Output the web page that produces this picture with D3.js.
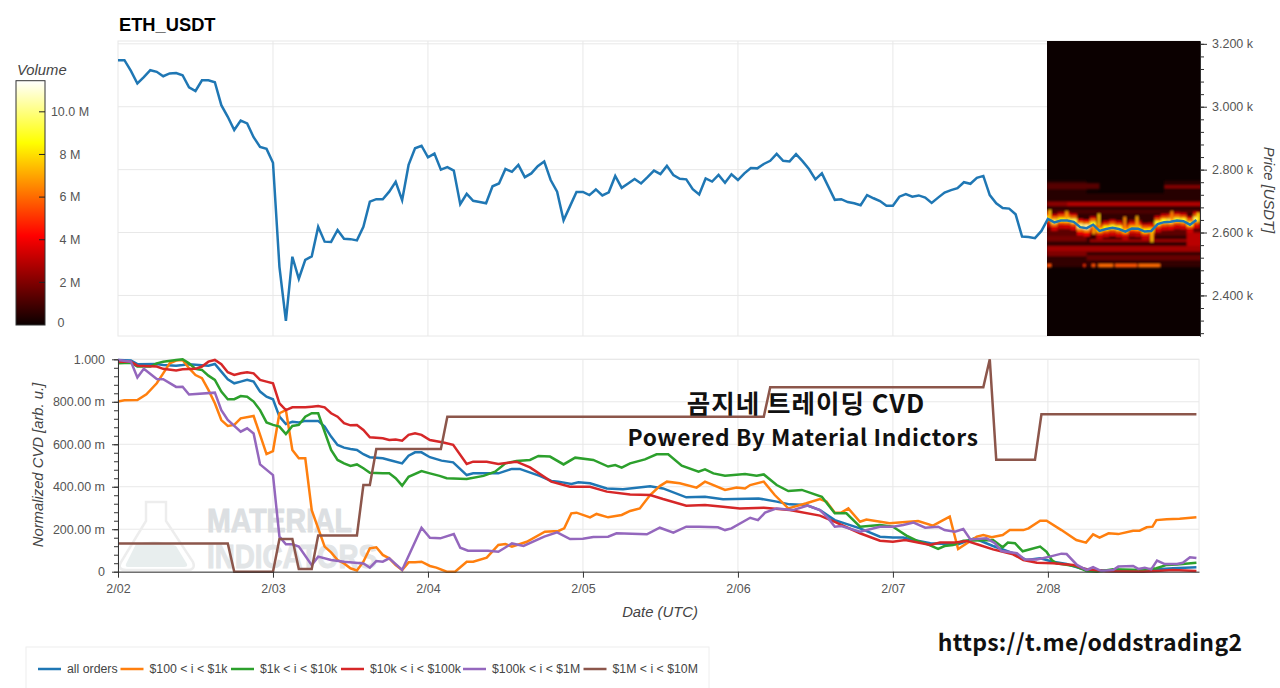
<!DOCTYPE html>
<html lang="en">

<head>
    <title>ETH_USDT CVD</title>
    <script src="https://d3js.org/d3.v7.min.js"></script>
    <style>
        html, body {
            margin: 0;
            background: #fff;
            overflow: hidden;
        }

        text {
            font-family: "Liberation Sans", Arial, sans-serif;
            fill: #555;
            font-size: 12.5px;
        }

        .axis-title {
            font-style: italic;
            font-size: 14.8px;
            fill: #444;
        }

        .overlay {
            font-family: "Noto Sans CJK KR", sans-serif;
            font-weight: 700;
            fill: #111;
        }

        .grid line {
            stroke: #e8e8e8;
        }
    </style>
</head>

<body>
<svg id="target" width="1280" height="688"></svg>
<script type="text/javascript">
    // one price per hour, starting 2/02 00:00 UTC
    const priceValues = [3148, 3148, 3114, 3074, 3094, 3116, 3111, 3097, 3106, 3107, 3100, 3062, 3050, 3084, 3084, 3078,
        3005, 2968, 2926, 2956, 2947, 2903, 2872, 2866, 2822, 2491, 2319, 2523, 2453, 2513, 2524, 2618,
        2571, 2570, 2608, 2580, 2579, 2575, 2618, 2698, 2706, 2706, 2730, 2761, 2703, 2815, 2868, 2876,
        2839, 2851, 2800, 2808, 2797, 2690, 2723, 2701, 2697, 2693, 2747, 2756, 2802, 2793, 2815, 2776,
        2788, 2811, 2826, 2767, 2730, 2639, 2684, 2729, 2729, 2719, 2737, 2718, 2728, 2780, 2742, 2756,
        2770, 2756, 2776, 2797, 2786, 2812, 2783, 2771, 2769, 2738, 2721, 2772, 2762, 2783, 2758, 2785,
        2767, 2788, 2805, 2804, 2818, 2828, 2850, 2828, 2826, 2849, 2827, 2802, 2769, 2788, 2746, 2704,
        2706, 2697, 2693, 2687, 2719, 2709, 2700, 2685, 2685, 2714, 2722, 2714, 2718, 2711, 2694, 2711,
        2727, 2735, 2741, 2760, 2755, 2774, 2780, 2719, 2693, 2678, 2676, 2658, 2587, 2586, 2582, 2605,
        2643, 2632, 2638, 2638, 2634, 2617, 2614, 2625, 2605, 2611, 2615, 2611, 2603, 2613, 2612, 2603,
        2605, 2627, 2633, 2634, 2638, 2636, 2625, 2640];

    // [hour, cvd in milli units]
    const allOrders = [[0, 997], [2, 994], [3, 977], [6, 978], [7, 973], [9, 970], [10, 973], [11, 977], [14, 970], [15, 978], [16, 942], [17, 906], [18, 887], [19, 895], [20, 903], [21, 895], [22, 848], [23, 824], [24, 812], [25, 730], [26, 695], [27, 706], [28, 703], [29, 710], [31, 710], [32, 683], [33, 636], [34, 597], [35, 584], [36, 578], [37, 573], [38, 553], [39, 539], [41, 534], [42, 526], [44, 510], [45, 546], [46, 562], [47, 562], [48.3, 539], [50.1, 523], [51.9, 515], [54, 455], [55, 463], [58.9, 463], [61, 484], [62.2, 484], [65.3, 451], [67.1, 427], [68.2, 424], [70.2, 413], [71.3, 421], [73.1, 416], [75.7, 392], [78.2, 388], [82.4, 402], [84.4, 392], [88, 350], [90.9, 353], [93.7, 341], [99.2, 345], [102, 330], [104, 317], [106.6, 314], [108.7, 290], [111, 243], [114.9, 204], [118, 165], [120, 161], [121.6, 161], [123.2, 149], [125.8, 134], [130, 128], [132.6, 157], [135.5, 121], [138.6, 87], [140.7, 55], [142.8, 63], [144.8, 47], [146.9, 36], [149, 16], [151, 8], [154, 3], [158.7, 3], [160.8, 11], [163.4, 16], [167, 21]];
    const band100 = [[0, 801], [1, 807], [3, 808], [4.4, 835], [6, 887], [7, 934], [8, 981], [9, 994], [10, 997], [11, 958], [12, 926], [13, 911], [14, 856], [15, 793], [16, 714], [17, 686], [18, 691], [19, 722], [21, 733], [22, 644], [23, 554], [24, 568], [25, 746], [26, 761], [27, 573], [28, 534], [29, 534], [30, 290], [31, 204], [32, 118], [33, 91], [34, 55], [35, 39], [36, 16], [37, 6], [38, 47], [39, 110], [40, 115], [41, 79], [42, 63], [43, 31], [44, 8], [45, 44], [46, 44], [47, 47], [48.3, 27], [49.3, 19], [50.9, 0], [52.2, 0], [54, 47], [55, 47], [57.1, 66], [58.9, 126], [60, 130], [61, 118], [63.3, 141], [66.1, 188], [68.2, 192], [69.1, 204], [70.2, 275], [71, 278], [73.1, 256], [74.1, 272], [75.9, 256], [78, 267], [79.3, 286], [80.8, 298], [82.4, 361], [83.9, 403], [85, 424], [87, 416], [89.6, 396], [90.9, 424], [94, 385], [95.8, 396], [97.1, 392], [97.9, 408], [100, 424], [101.7, 361], [103.8, 298], [106.6, 322], [108.7, 342], [109.7, 330], [111, 278], [112, 278], [113.1, 298], [114.9, 235], [115.9, 246], [119.5, 228], [123.9, 239], [126.2, 217], [128.8, 259], [129.8, 141], [130.1, 107], [133, 165], [134, 173], [135.3, 162], [137, 173], [138.1, 196], [140.2, 196], [141, 204], [142.8, 240], [143.8, 240], [146.1, 196], [148.4, 149], [149.9, 137], [151, 176], [152, 160], [153.4, 181], [154.9, 177], [157.2, 193], [158.2, 193], [159.3, 209], [160.2, 212], [160.8, 243], [162.4, 247], [164.4, 249], [167, 256]];
    const band1k = [[0, 981], [2, 984], [3, 966], [5, 966], [6, 981], [7, 989], [9, 997], [10, 1000], [11, 981], [12, 955], [13, 950], [14, 923], [15, 903], [16, 848], [17, 812], [18, 812], [19, 827], [20, 824], [21, 801], [22, 761], [23, 703], [24, 691], [25, 683], [26, 648], [27, 686], [28, 691], [29, 730], [30, 746], [31, 746], [32, 659], [33, 573], [34, 526], [35, 510], [36, 498], [37, 505], [38, 487], [39, 466], [41, 463], [42, 463], [43, 440], [44, 405], [45, 447], [47, 474], [48.3, 463], [49.8, 451], [50.9, 440], [54, 436], [56.6, 451], [58.4, 471], [60, 510], [61.7, 521], [63.8, 526], [65.1, 545], [66.9, 542], [69, 505], [70.8, 537], [73.6, 526], [75.9, 495], [77, 502], [78, 490], [79.3, 510], [81.6, 529], [83.4, 553], [85.2, 553], [87.3, 499], [89.9, 471], [90.9, 482], [92.2, 463], [94, 452], [97.1, 460], [98.9, 452], [100, 458], [102, 408], [103.8, 380], [105.9, 385], [109, 353], [111, 275], [112.8, 275], [114.9, 212], [118, 220], [120, 212], [120.6, 200], [122.1, 170], [123.7, 146], [125.4, 129], [127, 107], [128, 121], [129.3, 126], [130.9, 146], [135.5, 149], [137, 115], [137.8, 137], [138.9, 134], [140.1, 96], [142.8, 118], [143.8, 94], [144.6, 55], [145.3, 40], [147.1, 32], [148.4, 24], [150, 3], [151.6, 0], [154.1, 11], [158.7, 8], [160.8, 16], [162.4, 32], [164, 34], [167, 42]];
    const band10k = [[0, 989], [2, 989], [3, 970], [6, 966], [7, 955], [9, 947], [10, 953], [12, 955], [13, 966], [14, 989], [15, 997], [16, 977], [17, 939], [18, 926], [19, 934], [20, 939], [21, 934], [22, 903], [23, 895], [24, 887], [25, 793], [26, 761], [27, 774], [29, 774], [30, 777], [31, 780], [32, 774], [33, 746], [34, 730], [35, 699], [36, 689], [37, 691], [38, 667], [39, 633], [41, 628], [42, 620], [43, 622], [44, 617], [45, 644], [46, 652], [47, 644], [48.3, 620], [50.4, 608], [51.9, 597], [54, 507], [55, 518], [57.1, 518], [58.9, 507], [61.7, 518], [63.8, 491], [67.1, 424], [70, 400], [73.1, 400], [75.7, 377], [79.3, 364], [82.4, 361], [84.4, 342], [88, 311], [90.9, 314], [93.7, 306], [96.3, 298], [100, 301], [104, 290], [108.7, 264], [111, 235], [114.9, 181], [118, 146], [120, 141], [121.9, 149], [125.8, 126], [127.3, 137], [129.6, 138], [131.4, 145], [133.4, 126], [135.5, 105], [138.6, 82], [140.2, 55], [142.3, 42], [144.8, 40], [147.9, 32], [150, 11], [153, 2], [158.7, 0], [160.8, 3], [163.4, 8], [167, 3]];
    const band100k = [[0, 997], [2, 989], [3, 914], [4, 955], [6, 907], [7, 906], [9, 870], [10, 871], [11, 834], [15, 843], [16, 761], [17, 714], [19, 659], [20, 675], [21, 651], [22, 505], [24, 455], [25, 165], [26, 129], [27, 129], [28, 118], [30, 31], [31, 71], [33, 55], [35, 47], [38, 39], [39, 19], [40, 50], [41, 47], [42, 63], [44, 8], [47, 207], [48.3, 160], [49.9, 157], [52, 177], [53, 113], [54.2, 99], [57.3, 99], [58.9, 94], [61, 133], [62.8, 121], [66, 165], [68, 185], [70, 154], [72, 155], [73.6, 163], [75.9, 165], [77.2, 181], [81.9, 176], [83.9, 207], [86, 184], [88, 212], [90, 212], [92.9, 209], [94, 196], [95, 204], [97.9, 254], [99.1, 243], [100.2, 278], [102, 298], [104.5, 290], [106.8, 311], [108.7, 290], [110, 251], [111, 212], [112, 215], [114.9, 188], [118, 212], [120, 212], [121.6, 220], [123.2, 231], [125, 207], [127, 212], [128, 196], [129.6, 188], [130.9, 201], [132, 152], [134.5, 157], [135.8, 134], [136.8, 97], [139.2, 87], [140.4, 58], [142.3, 58], [144.3, 71], [146.1, 85], [146.9, 83], [148.5, 32], [150, 8], [151, 21], [152.3, 3], [154.1, 8], [154.9, 24], [157.2, 27], [158, 13], [159, 19], [160, 11], [160.9, 52], [162.1, 36], [164, 36], [164.9, 42], [166, 68], [167, 64]];
    const band1m = [[0, 133], [17, 133], [18, 0], [24, 0], [25, 154], [27, 154], [28, 13], [30, 13], [31, 171], [37, 171], [38, 408], [39, 408], [40, 578], [50, 578], [51, 730], [100, 730], [101, 868], [134, 868], [135, 1000], [136, 527], [142, 527], [143, 741], [167, 741]];

    const seriesNames = ['all orders', '$100 < i < $1k', '$1k < i < $10k', '$10k < i < $100k', '$100k < i < $1M', '$1M < i < $10M'];
    const seriesColors = ['#1f77b4', '#ff7f0e', '#2ca02c', '#d62728', '#9467bd', '#8c564b'];
    const seriesData = [allOrders, band100, band1k, band10k, band100k, band1m];

    const dayLabels = ['2/02', '2/03', '2/04', '2/05', '2/06', '2/07', '2/08'];
    const priceTicks = [2400, 2600, 2800, 3000, 3200];
    const priceLabels = ['2.400 k', '2.600 k', '2.800 k', '3.000 k', '3.200 k'];
    const cvdTicks = [0, 200, 400, 600, 800, 1000];
    const cvdLabels = ['0', '200.00 m', '400.00 m', '600.00 m', '800.00 m', '1.000'];
    const volumeTicks = [0, 2, 4, 6, 8, 10];
    const volumeLabels = ['0', '2 M', '4 M', '6 M', '8 M', '10.0 M'];
    const volumeMax = 11.46;
    const hotStops = [0, 0.365, 0.746, 1];
    const hotColors = ['#0b0000', '#ff0000', '#ffff00', '#ffffff'];

    // order book heatmap, only the last day: [hour from, hour to, price low, price high, volume M]
    const heatBands = [
        [143.8, 168.2, 2490, 2700, 0.65], [143.8, 150, 2700, 2765, 0.5], [150, 162, 2700, 2725, 0.45], [162, 168.2, 2700, 2765, 0.5],
        [143.8, 152, 2738, 2757, 1.3], [162, 168.2, 2741, 2750, 2.2],
        [143.8, 168.2, 2684, 2698, 2.2], [147, 168.2, 2686, 2695, 3.0],
        [143.8, 168.2, 2660, 2672, 1.1], [143.8, 168.2, 2590, 2625, 1.4],
        [143.8, 150, 2572, 2590, 1.8], [150.5, 166, 2571, 2578, 2.8], [165.5, 168.2, 2555, 2600, 3.0],
        [143.8, 168.2, 2539, 2557, 2.6], [143.8, 150, 2525, 2539, 2.0], [150, 168.2, 2512, 2528, 1.6],
        [143.8, 144.5, 2489, 2500, 5.5], [149.5, 149.8, 2489, 2500, 5], [150.8, 151.3, 2489, 2500, 5.5],
        [151.8, 154.1, 2489, 2500, 6], [154.4, 157.8, 2489, 2500, 5.6], [158, 161.4, 2489, 2500, 6]
    ];
    // hottest volume at each hour next to the traded price, 2/08 00:00 onward
    const trackVolumes = [8, 9.5, 8.5, 9, 9.5, 10, 10.5, 9, 8, 8.5, 9, 9, 8, 7.5, 8, 8.5, 8, 9, 9, 9.5, 9, 9, 9, 9.5];
    // [price offset low, price offset high, share of the hottest volume]
    const trackProfile = [[-26, -12, 0.38], [-12, -4, 0.65], [-4, 10, 1], [10, 18, 0.68], [18, 26, 0.38]];
    // [hour, price low, price high, volume M]
    const heatSpikes = [[144.3, 2640, 2672, 7.5], [146.9, 2640, 2668, 7], [151.1, 2595, 2625, 7], [151.9, 2620, 2660, 7.5],
        [155.9, 2610, 2650, 6.5], [157.8, 2610, 2652, 7], [160.1, 2570, 2610, 7.5], [163.2, 2635, 2668, 6.5], [167.3, 2635, 2662, 8]];

    const svg = d3.select('#target');

    const x = d3.scaleLinear().domain([0, 167.4]).range([118, 1199]);
    const yPrice = d3.scaleLinear().domain([2271, 3209]).range([336, 41]);
    const yCvd = d3.scaleLinear().domain([0, 1000]).range([571.7, 359.3]);
    const yVolume = d3.scaleLinear().domain([0, volumeMax]).range([325, 80.7]);
    const hot = d3.scaleLinear()
        .domain(hotStops.map(d => d * volumeMax))
        .range(hotColors)
        .clamp(true);
    const dayHours = dayLabels.map((d, i) => i * 24);

    const defs = svg.append('defs');
    defs.append('filter').attr('id', 'soft')
        .append('feGaussianBlur').attr('stdDeviation', 1);
    defs.append('clipPath').attr('id', 'heatClip')
        .append('rect').attr('x', 1047).attr('y', 41).attr('width', 153).attr('height', 295);
    defs.append('linearGradient').attr('id', 'hotBar').attr('x1', 0).attr('x2', 0).attr('y1', 1).attr('y2', 0)
        .selectAll('stop').data(hotStops).join('stop')
        .attr('offset', d => d).attr('stop-color', (d, i) => hotColors[i]);

    // ---- price panel ----
    const pricePanel = svg.append('g');
    pricePanel.append('rect').attr('x', 118).attr('y', 41).attr('width', 1082).attr('height', 295)
        .attr('fill', 'none').attr('stroke', '#e8e8e8');
    const topGrid = pricePanel.append('g').attr('class', 'grid');
    topGrid.append('g').selectAll('line').data(priceTicks).join('line')
        .attr('x1', 118).attr('x2', 1200).attr('y1', d => yPrice(d)).attr('y2', d => yPrice(d));
    topGrid.append('g').selectAll('line').data(dayHours.slice(1)).join('line')
        .attr('x1', d => x(d)).attr('x2', d => x(d)).attr('y1', 41).attr('y2', 336);

    pricePanel.append('rect').attr('x', 1047).attr('y', 41).attr('width', 153).attr('height', 295).attr('fill', hot(0));
    const heat = pricePanel.append('g').attr('clip-path', 'url(#heatClip)').append('g').attr('filter', 'url(#soft)');
    heat.append('g').selectAll('rect').data(heatBands).join('rect')
        .attr('x', d => x(d[0])).attr('width', d => x(d[1]) - x(d[0]))
        .attr('y', d => yPrice(d[3])).attr('height', d => yPrice(d[2]) - yPrice(d[3]))
        .attr('fill', d => hot(d[4]));
    trackVolumes.forEach((vol, i) => {
        const hour = 144 + i;
        heat.append('g').selectAll('rect').data(trackProfile).join('rect')
            .attr('x', x(hour - 0.5)).attr('width', x(hour + 0.5) - x(hour - 0.5))
            .attr('y', d => yPrice(priceValues[hour] + d[1])).attr('height', d => yPrice(priceValues[hour] + d[0]) - yPrice(priceValues[hour] + d[1]))
            .attr('fill', d => hot(vol * d[2]));
    });
    heat.append('g').selectAll('rect').data(heatSpikes).join('rect')
        .attr('x', d => x(d[0] - 0.2)).attr('width', d => x(d[0] + 0.2) - x(d[0] - 0.2))
        .attr('y', d => yPrice(d[2])).attr('height', d => yPrice(d[1]) - yPrice(d[2]))
        .attr('fill', d => hot(d[3]));

    const priceLine = d3.line().x((d, i) => x(i)).y(d => yPrice(d));
    pricePanel.append('path').datum(priceValues).attr('d', priceLine)
        .attr('fill', 'none').attr('stroke', '#1f77b4').attr('stroke-width', 2.5);

    const styleAxis = g => {
        g.selectAll('text').style('font-size', '12.5px').attr('fill', '#555');
        g.selectAll('line,path').attr('stroke', '#333');
    };
    const priceMinor = d3.range(2280, 3201, 40);
    pricePanel.append('g').attr('transform', 'translate(1200,0)')
        .call(d3.axisRight(yPrice).tickValues(priceMinor).tickSize(4).tickSizeOuter(0).tickFormat(''))
        .call(styleAxis);
    pricePanel.append('g').attr('transform', 'translate(1200,0)')
        .call(d3.axisRight(yPrice).tickValues(priceTicks).tickSize(7).tickSizeOuter(0).tickPadding(5)
            .tickFormat((d, i) => priceLabels[i]))
        .call(styleAxis);
    svg.append('text').attr('class', 'axis-title').attr('text-anchor', 'middle')
        .attr('transform', 'translate(1264,190) rotate(90)').text('Price [USDT]');
    svg.append('text').attr('x', 119).attr('y', 31).style('font-size', '18.3px').style('font-weight', 700)
        .style('fill', '#000').text('ETH_USDT');

    // ---- volume colour bar ----
    svg.append('text').attr('class', 'axis-title').attr('x', 17).attr('y', 75).text('Volume');
    svg.append('rect').attr('x', 16).attr('y', yVolume(volumeMax)).attr('width', 29).attr('height', yVolume(0) - yVolume(volumeMax))
        .attr('fill', 'url(#hotBar)').attr('stroke', '#333');
    svg.append('g').selectAll('line').data(volumeTicks.slice(1)).join('line')
        .attr('x1', 39).attr('x2', 45).attr('y1', d => yVolume(d)).attr('y2', d => yVolume(d)).attr('stroke', '#222');
    svg.append('g').selectAll('text').data(volumeTicks).join('text')
        .attr('x', d => d === 0 ? 61 : 70).attr('y', d => Math.min(yVolume(d), 323)).attr('dy', '0.35em')
        .attr('text-anchor', 'middle').text((d, i) => volumeLabels[i]);

    // ---- cvd panel ----
    const cvdPanel = svg.append('g');
    cvdPanel.append('rect').attr('x', 118).attr('y', 359.3).attr('width', 1081).attr('height', 212.4)
        .attr('fill', 'none').attr('stroke', '#e8e8e8');
    const bottomGrid = cvdPanel.append('g').attr('class', 'grid');
    bottomGrid.append('g').selectAll('line').data(cvdTicks).join('line')
        .attr('x1', 118).attr('x2', 1199).attr('y1', d => yCvd(d)).attr('y2', d => yCvd(d));
    bottomGrid.append('g').selectAll('line').data(dayHours.slice(1)).join('line')
        .attr('x1', d => x(d)).attr('x2', d => x(d)).attr('y1', 359.3).attr('y2', 571.7);

    // faded watermark behind the lines
    const mark = cvdPanel.append('g');
    mark.append('path').attr('d', 'M146 502H166V521L193 562Q196 570 187 570H126Q117 570 121 562L146 521Z')
        .attr('fill', 'none').attr('stroke', '#ededed').attr('stroke-width', 2.5);
    mark.append('path').attr('d', 'M136 544Q156 538 176 546L187 564Q188 567 184 567H128Q125 567 126 564Z')
        .attr('fill', '#e8eeee');
    mark.append('text').attr('x', 207).attr('y', 532).attr('textLength', 145).attr('lengthAdjust', 'spacingAndGlyphs')
        .style('font-size', '34px').style('font-weight', 700).style('fill', '#dcdfe2')
        .style('stroke', '#dcdfe2').text('MATERIAL');
    mark.append('text').attr('x', 207).attr('y', 568).attr('textLength', 170).attr('lengthAdjust', 'spacingAndGlyphs')
        .style('font-size', '34px').style('font-weight', 700).style('fill', '#e2e5e7')
        .style('stroke', '#e2e5e7').text('INDICATORS');

    const cvdLine = d3.line().x(d => x(d[0])).y(d => yCvd(d[1]));
    cvdPanel.append('g').selectAll('path').data(seriesData).join('path')
        .attr('d', cvdLine).attr('fill', 'none').attr('stroke-width', 2.5)
        .attr('stroke', (d, i) => seriesColors[i]);

    const cvdMinor = d3.range(0, 1001, 40);
    cvdPanel.append('g').attr('transform', 'translate(118,0)')
        .call(d3.axisLeft(yCvd).tickValues(cvdMinor).tickSize(4).tickSizeOuter(0).tickFormat(''))
        .call(styleAxis);
    cvdPanel.append('g').attr('transform', 'translate(118,0)')
        .call(d3.axisLeft(yCvd).tickValues(cvdTicks).tickSize(6).tickSizeOuter(0).tickPadding(7)
            .tickFormat((d, i) => cvdLabels[i]))
        .call(styleAxis);
    cvdPanel.append('g').attr('transform', 'translate(0,571.7)')
        .call(d3.axisBottom(x).tickValues(dayHours).tickSize(6).tickSizeOuter(0).tickPadding(6)
            .tickFormat((d, i) => dayLabels[i]))
        .call(styleAxis);
    svg.append('text').attr('class', 'axis-title').attr('text-anchor', 'middle')
        .attr('transform', 'translate(43,465) rotate(-90)').text('Normalized CVD [arb. u.]');
    svg.append('text').attr('class', 'axis-title').attr('text-anchor', 'middle')
        .attr('x', 660).attr('y', 617).text('Date (UTC)');

    // ---- legend ----
    const legendLineX = [38, 120.5, 231, 341, 463, 583.5];
    const legend = svg.append('g');
    legend.append('rect').attr('x', 26).attr('y', 647).attr('width', 683).attr('height', 50)
        .attr('fill', '#fff').attr('stroke', '#eee');
    const legendItem = legend.selectAll('g').data(seriesNames).join('g')
        .attr('transform', (d, i) => `translate(${legendLineX[i]},669)`);
    legendItem.append('line').attr('x1', 0).attr('x2', 23)
        .attr('stroke-width', 2.5).attr('stroke', (d, i) => seriesColors[i]);
    legendItem.append('text').attr('x', 29).attr('dy', '0.35em').style('font-size', '12.3px').style('fill', '#444').text(d => d);

    // ---- pasted captions ----
    svg.append('text').attr('class', 'overlay').attr('x', 806).attr('y', 413).attr('text-anchor', 'middle')
        .style('font-size', '25.5px').style('letter-spacing', '1px').text('곰지네 트레이딩 CVD');
    svg.append('text').attr('class', 'overlay').attr('x', 803).attr('y', 446).attr('text-anchor', 'middle')
        .style('font-size', '22.7px').style('letter-spacing', '0.6px').text('Powered By Material Indictors');
    svg.append('text').attr('class', 'overlay').attr('x', 1090).attr('y', 651).attr('text-anchor', 'middle')
        .style('font-size', '23px').style('letter-spacing', '0.3px').text('https://t.me/oddstrading2');
</script>
</body>
</html>
